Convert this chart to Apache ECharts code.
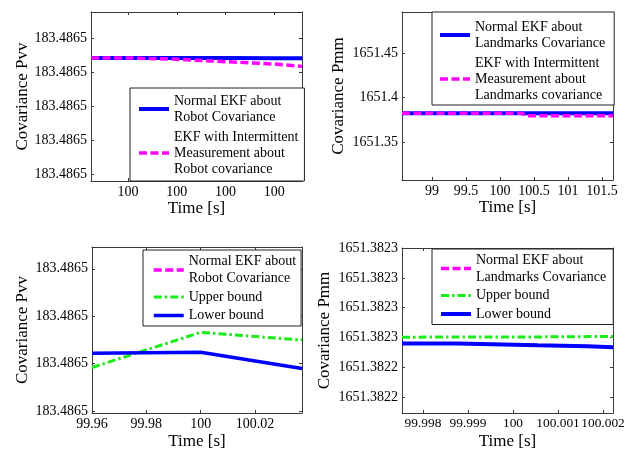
<!DOCTYPE html>
<html>
<head>
<meta charset="utf-8">
<script src="https://cdn.jsdelivr.net/npm/echarts@6/dist/echarts.min.js"></script>
<style>
html,body{margin:0;padding:0;background:#fff}
#chart{width:635px;height:451px}
</style>
</head>
<body>
<div id="chart"></div>
<script>
// ===== panel 1 : Pvv, normal vs intermittent =====
var p1Time = [99.999724, 99.9998, 99.9999, 100.0, 100.0001, 100.000157];
var p1Normal = [183.4865141, 183.4865141, 183.4865141, 183.4865141, 183.4865140, 183.4865140];
var p1Intermittent = [183.4865141, 183.4865141, 183.4865137, 183.4865130, 183.4865123, 183.4865116];
var p1XRange = [99.999724, 100.000157];
var p1XTicks = [99.9998, 99.9999, 100.0, 100.0001];
var p1XLabels = ['100', '100', '100', '100'];
var p1YRange = [183.4864779, 183.4865276];
var p1YTicks = [183.48648, 183.48649, 183.4865, 183.48651, 183.48652];
var p1YLabels = ['183.4865', '183.4865', '183.4865', '183.4865', '183.4865'];

// ===== panel 2 : Pmm, normal vs intermittent =====
var p2Time = [98.559, 100.31, 100.4, 101.662];
var p2Normal = [1651.3824, 1651.3824, 1651.3824, 1651.3824];
var p2Intermittent = [1651.3824, 1651.3824, 1651.3794, 1651.3794];
var p2XRange = [98.559, 101.662];
var p2XTicks = [99, 99.5, 100, 100.5, 101, 101.5];
var p2XLabels = ['99', '99.5', '100', '100.5', '101', '101.5'];
var p2YRange = [1651.3073, 1651.4961];
var p2YTicks = [1651.35, 1651.4, 1651.45];
var p2YLabels = ['1651.35', '1651.4', '1651.45'];

// ===== panel 3 : Pvv with bounds =====
var p3Time = [99.96, 100.0, 100.0373];
var p3Upper = [183.4864992, 183.4865066, 183.4865050];
var p3Lower = [183.4865022, 183.4865024, 183.4864990];
var p3XRange = [99.96, 100.0373];
var p3XTicks = [99.96, 99.98, 100, 100.02];
var p3XLabels = ['99.96', '99.98', '100', '100.02'];
var p3YRange = [183.4864896, 183.4865246];
var p3YTicks = [183.48649, 183.4865, 183.48651, 183.48652];
var p3YLabels = ['183.4865', '183.4865', '183.4865', '183.4865'];

// ===== panel 4 : Pmm with bounds =====
var p4Time = [99.997533, 99.998778, 100.000544, 100.001656, 100.002222];
var p4Upper = [1651.3822601, 1651.3822602, 1651.3822602, 1651.3822603, 1651.3822603];
var p4Lower = [1651.3822580, 1651.3822574, 1651.3822571, 1651.3822567, 1651.3822567];
var p4XRange = [99.997533, 100.002222];
var p4XTicks = [99.998, 99.999, 100, 100.001, 100.002];
var p4XLabels = ['99.998', '99.999', '100', '100.001', '100.002'];
var p4YRange = [1651.3822347, 1651.38229];
var p4YTicks = [1651.38224, 1651.38225, 1651.38226, 1651.38227, 1651.38228, 1651.38229];
var p4YLabels = ['1651.3822', '1651.3822', '1651.3823', '1651.3823', '1651.3823', '1651.3823'];

var legendText = {
	p1Normal: 'Normal EKF about\nRobot Covariance',
	p1Intermittent: 'EKF with Intermittent\nMeasurement about\nRobot covariance',
	p2Normal: 'Normal EKF about\nLandmarks Covariance',
	p2Intermittent: 'EKF with Intermittent\nMeasurement about\nLandmarks covariance',
	p3Normal: 'Normal EKF about\nRobot Covariance',
	p3Upper: 'Upper bound',
	p3Lower: 'Lower bound',
	p4Normal: 'Normal EKF about\nLandmarks Covariance',
	p4Upper: 'Upper bound',
	p4Lower: 'Lower bound'
};

var FONT = 'Liberation Serif';
var AXIS_COLOR = '#3a3a3a';
var BLUE = '#0000ff', MAGENTA = '#ff00ff', GREEN = '#19ec19';
var DASH = [8, 3.5], DASHDOT = [8, 3, 2.5, 3];

function labelOf(ticks, labels){
	return function(v){
		var best = 0;
		for(var i = 1; i < ticks.length; i++){
			if(Math.abs(v - ticks[i]) < Math.abs(v - ticks[best])) best = i;
		}
		return labels[best];
	};
}

function zip(xs, ys){
	var out = [];
	for(var i = 0; i < xs.length; i++) out.push([xs[i], ys[i]]);
	return out;
}

function xAxes(gi, range, ticks, labels, gap, fontSize){
	var base = {
		type: 'value', gridIndex: gi, min: range[0], max: range[1],
		axisLine: {show: true, onZero: false, lineStyle: {color: AXIS_COLOR, width: 1}},
		axisTick: {show: true, inside: true, length: 3, customValues: ticks, lineStyle: {color: AXIS_COLOR}},
		splitLine: {show: false}
	};
	var bottom = echarts.util.merge({
		position: 'bottom', name: 'Time [s]', nameLocation: 'middle', nameGap: gap,
		nameTextStyle: {fontFamily: FONT, fontSize: 17, color: '#000'},
		axisLabel: {customValues: ticks, formatter: labelOf(ticks, labels), fontFamily: FONT, fontSize: fontSize || 14,
			color: '#000', margin: 4, hideOverlap: false, showMinLabel: true, showMaxLabel: true}
	}, base, true);
	var top = echarts.util.merge({position: 'top', axisLabel: {show: false}}, base, true);
	return [bottom, top];
}

function yAxes(gi, range, ticks, labels, name, gap){
	var base = {
		type: 'value', gridIndex: gi, min: range[0], max: range[1], scale: true,
		axisLine: {show: true, onZero: false, lineStyle: {color: AXIS_COLOR, width: 1}},
		axisTick: {show: true, inside: true, length: 3, customValues: ticks, lineStyle: {color: AXIS_COLOR}},
		splitLine: {show: false}
	};
	var left = echarts.util.merge({
		position: 'left', name: name, nameLocation: 'middle', nameGap: gap,
		nameTextStyle: {fontFamily: FONT, fontSize: 17, color: '#000'},
		axisLabel: {customValues: ticks, formatter: labelOf(ticks, labels), fontFamily: FONT, fontSize: 14,
			color: '#000', margin: 4, hideOverlap: false, showMinLabel: true, showMaxLabel: true}
	}, base, true);
	var right = echarts.util.merge({position: 'right', axisLabel: {show: false}}, base, true);
	return [left, right];
}

function line(gi, key, xs, ys, color, width, type){
	return {
		type: 'line', name: key, xAxisIndex: gi * 2, yAxisIndex: gi * 2,
		data: xs ? zip(xs, ys) : [], symbol: 'none', showSymbol: false,
		lineStyle: {color: color, width: width, type: type || 'solid'},
		itemStyle: {color: color}
	};
}

function legend(keys, left, top, padding, lineHeight, gap){
	return {
		data: keys, orient: 'vertical', left: left, top: top, padding: padding,
		itemWidth: 30, itemHeight: 8, itemGap: gap, selectedMode: false,
		backgroundColor: '#fff', borderColor: '#222', borderWidth: 1, borderRadius: 0,
		lineStyle: {width: 'inherit'},
		itemStyle: {opacity: 0},
		formatter: function(name){ return legendText[name]; },
		textStyle: {fontFamily: FONT, fontSize: 14, lineHeight: lineHeight, color: '#000'}
	};
}

var xs = [].concat(
	xAxes(0, p1XRange, p1XTicks, p1XLabels, 19),
	xAxes(1, p2XRange, p2XTicks, p2XLabels, 19),
	xAxes(2, p3XRange, p3XTicks, p3XLabels, 20),
	xAxes(3, p4XRange, p4XTicks, p4XLabels, 20, 13.4)
);
var ys = [].concat(
	yAxes(0, p1YRange, p1YTicks, p1YLabels, 'Covariance Pvv', 60),
	yAxes(1, p2YRange, p2YTicks, p2YLabels, 'Covariance Pmm', 55),
	yAxes(2, p3YRange, p3YTicks, p3YLabels, 'Covariance Pvv', 61),
	yAxes(3, p4YRange, p4YTicks, p4YLabels, 'Covariance Pmm', 69)
);

var option = {
	animation: false,
	backgroundColor: '#fff',
	grid: [
		{left: 91, top: 12, width: 211, height: 169, show: false},
		{left: 402, top: 12, width: 211, height: 168, show: false},
		{left: 92, top: 247, width: 210, height: 168, show: false},
		{left: 402, top: 248, width: 211, height: 167, show: false}
	],
	xAxis: xs,
	yAxis: ys,
	legend: [
		legend(['p1Normal', 'p1Intermittent'], 130, 88, [5, 6, 4, 7], 16, 4),
		legend(['p2Normal', 'p2Intermittent'], 432, 12, [7, 9, 2, 6], 16, 4),
		legend(['p3Normal', 'p3Upper', 'p3Lower'], 143, 250, [3, 5, 2, 9], 17, 1.5),
		legend(['p4Normal', 'p4Upper', 'p4Lower'], 432, 249, [2.5, 7, 2, 7], 17, 1.5)
	],
	series: [
		line(0, 'p1Normal', p1Time, p1Normal, BLUE, 4),
		line(0, 'p1Intermittent', p1Time, p1Intermittent, MAGENTA, 3.5, DASH),
		line(1, 'p2Normal', p2Time, p2Normal, BLUE, 4),
		line(1, 'p2Intermittent', p2Time, p2Intermittent, MAGENTA, 3.5, DASH),
		line(2, 'p3Normal', null, null, MAGENTA, 3.5, DASH),
		line(2, 'p3Upper', p3Time, p3Upper, GREEN, 3, DASHDOT),
		line(2, 'p3Lower', p3Time, p3Lower, BLUE, 3.5),
		line(3, 'p4Normal', null, null, MAGENTA, 3.5, DASH),
		line(3, 'p4Upper', p4Time, p4Upper, GREEN, 3, DASHDOT),
		line(3, 'p4Lower', p4Time, p4Lower, BLUE, 4)
	]
};
option.series[9].step = 'end';

var myChart = echarts.init(document.getElementById('chart'), null, {renderer: 'canvas'});
myChart.setOption(option);
</script>
</body>
</html>
